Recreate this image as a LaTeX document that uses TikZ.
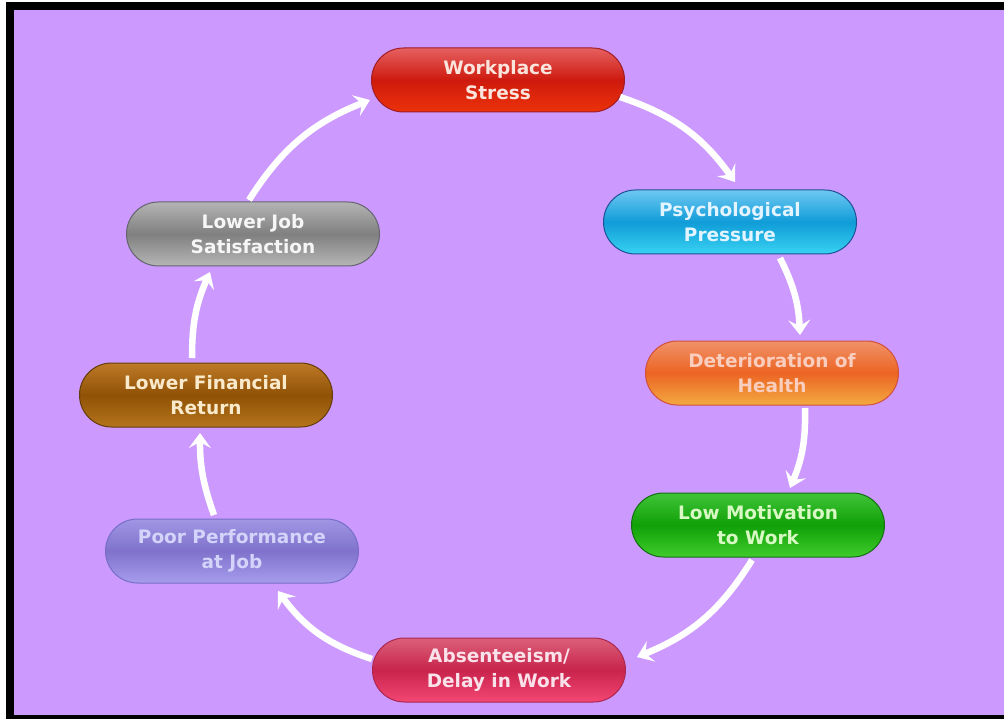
\documentclass[tikz,border=0pt]{standalone}
\usepackage{fontspec}
\setmainfont{DejaVu Sans}
\usetikzlibrary{shapes.misc,arrows.meta,calc}
\definecolor{bgpurple}{HTML}{CC99FF}
\tikzset{
  box/.style={rounded rectangle, minimum width=253pt, minimum height=64pt,
    inner sep=0pt, align=center, line width=1pt,
    font=\bfseries\fontsize{18.5}{25}\selectfont},
  arr/.style={draw=white, line width=6.5pt,
    -{Stealth[length=15pt,width=22pt,inset=6pt]}},
  redbox/.style={box, draw={rgb,255:red,160;green,30;blue,40}, top color={rgb,255:red,230;green,96;blue,96}, bottom color={rgb,255:red,236;green,50;blue,10}, middle color={rgb,255:red,206;green,26;blue,14}, text={rgb,255:red,250;green,228;blue,220}},
  bluebox/.style={box, draw={rgb,255:red,32;green,80;blue,150}, top color={rgb,255:red,110;green,200;blue,242}, bottom color={rgb,255:red,56;green,210;blue,242}, middle color={rgb,255:red,16;green,156;blue,216}, text={rgb,255:red,226;green,244;blue,255}},
  orangebox/.style={box, draw={rgb,255:red,210;green,80;blue,60}, top color={rgb,255:red,240;green,146;blue,104}, bottom color={rgb,255:red,244;green,170;blue,64}, middle color={rgb,255:red,236;green,100;blue,36}, text={rgb,255:red,250;green,206;blue,190}},
  greenbox/.style={box, draw={rgb,255:red,20;green,110;blue,20}, top color={rgb,255:red,64;green,196;blue,56}, bottom color={rgb,255:red,64;green,204;blue,44}, middle color={rgb,255:red,16;green,160;blue,8}, text={rgb,255:red,216;green,248;blue,196}},
  crimsonbox/.style={box, draw={rgb,255:red,170;green,40;blue,80}, top color={rgb,255:red,220;green,96;blue,122}, bottom color={rgb,255:red,244;green,70;blue,116}, middle color={rgb,255:red,200;green,36;blue,76}, text={rgb,255:red,250;green,226;blue,234}},
  lavbox/.style={box, draw={rgb,255:red,120;green,110;blue,200}, top color={rgb,255:red,160;green,150;blue,228}, bottom color={rgb,255:red,166;green,156;blue,236}, middle color={rgb,255:red,128;green,114;blue,204}, text={rgb,255:red,212;green,212;blue,250}},
  brownbox/.style={box, draw={rgb,255:red,100;green,60;blue,10}, top color={rgb,255:red,190;green,122;blue,40}, bottom color={rgb,255:red,180;green,116;blue,28}, middle color={rgb,255:red,144;green,82;blue,6}, text={rgb,255:red,250;green,234;blue,204}},
  graybox/.style={box, draw={rgb,255:red,100;green,100;blue,110}, top color={rgb,255:red,180;green,180;blue,180}, bottom color={rgb,255:red,182;green,182;blue,182}, middle color={rgb,255:red,128;green,128;blue,128}, text={rgb,255:red,246;green,246;blue,246}},
}
\begin{document}
\begin{tikzpicture}[x=1pt,y=-1pt]
\useasboundingbox (0,0) rectangle (1004,719);
\fill[white] (0,0) rectangle (1004,719);
\fill[black] (6,2) rectangle (1004,719);
\fill[bgpurple] (14,10) rectangle (1004,715);

\node[redbox]     (ws) at (498,80)  {Workplace\\Stress};
\node[bluebox]    (pp) at (730,222) {Psychological\\Pressure};
\node[orangebox]  (dh) at (772,373) {Deterioration of\\Health};
\node[greenbox]   (lm) at (758,525) {Low Motivation\\to Work};
\node[crimsonbox] (ab) at (499,670) {Absenteeism/\\Delay in Work};
\node[lavbox]     (pf) at (232,551) {Poor Performance\\at Job};
\node[brownbox]   (lf) at (206,395) {Lower Financial\\Return};
\node[graybox]    (js) at (253,234) {Lower Job\\Satisfaction};

\draw[arr] ($(ws)+(122,17)$) to[bend left=18] ($(pp)+(5,-40)$);
\draw[arr] ($(pp)+(50,36)$) to[bend left=12] ($(dh)+(28,-38)$);
\draw[arr] ($(dh)+(33,35)$) to[bend left=12] ($(lm)+(32,-37)$);
\draw[arr] ($(lm)+(-6,35)$) to[bend left=18] ($(ab)+(138,-13)$);
\draw[arr] ($(ab)+(-127,-11)$) to[bend left=18] ($(pf)+(46,40)$);
\draw[arr] ($(pf)+(-18,-36)$) to[bend left=10] ($(lf)+(-6,38)$);
\draw[arr] ($(lf)+(-14,-37)$) to[bend left=12] ($(js)+(-43,38)$);
\draw[arr] ($(js)+(-4,-34)$) to[bend left=18] ($(ws)+(-128,20)$);
\end{tikzpicture}
\end{document}
